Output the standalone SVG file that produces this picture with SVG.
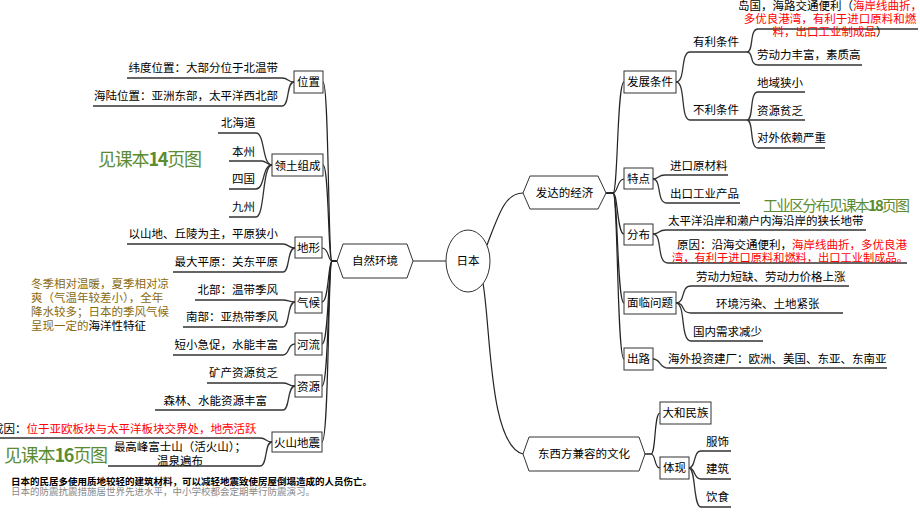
<svg xmlns="http://www.w3.org/2000/svg" width="920" height="518" viewBox="0 0 920 518">
<style>
text{font-family:"Noto Sans CJK SC","Noto Sans",sans-serif;font-size:11.5px;fill:#000}
.m{text-anchor:middle}
.e{text-anchor:end}
.r{fill:#f00}
.g{fill:#5b8c32;font-size:18px}
.o{fill:#8a6a10}
.box{fill:#fff;stroke:#333;stroke-width:1}
.sh{fill:none;stroke:#aaa;stroke-width:1}
.ln{fill:none;stroke:#222;stroke-width:1.2}
.ul{fill:none;stroke:#333;stroke-width:1.3}
.sm{font-size:9.5px}
</style>
<rect width="920" height="518" fill="#fff"/>

<g id="connectors">
  <line class="ln" x1="413" y1="261" x2="446" y2="261"/>
  <path class="ln" d="M487,245 C499,214 505,193 523,193"/>
  <path class="ln" d="M483,283 C491,330 489,445 523,454"/>
  <!-- left spine -->
  <path class="ln" d="M337,261 H332 C328,261 329,82 323,82"/>
  <path class="ln" d="M337,261 H332 C328,261 329,165 323,165"/>
  <path class="ln" d="M337,261 H332 C328,261 329,248 322,248"/>
  <path class="ln" d="M337,261 H332 C328,261 329,302 322,302"/>
  <path class="ln" d="M337,261 H332 C328,261 329,344 322,344"/>
  <path class="ln" d="M337,261 H332 C328,261 329,386 322,386"/>
  <path class="ln" d="M337,261 H332 C328,261 329,442 322,442"/>
  <!-- right spine -->
  <path class="ln" d="M606,193 H613 C618,193 617,82 624,82"/>
  <path class="ln" d="M606,193 H613 C618,193 617,179 624,179"/>
  <path class="ln" d="M606,193 H613 C618,193 617,234 624,234"/>
  <path class="ln" d="M606,193 H613 C618,193 617,303 624,303"/>
  <path class="ln" d="M606,193 H613 C618,193 617,359 624,359"/>
  <!-- left children -->
  <path class="ul" d="M127,78 H282 C289,78 287,82 294,82"/>
  <path class="ul" d="M93,106 H282 C290,106 286,82 294,82"/>
  <path class="ul" d="M218,133 H256 C265,133 262,165 272,165"/>
  <path class="ul" d="M229,161 H262 C266,161 267,165 272,165"/>
  <path class="ul" d="M229,189 H256 C265,189 262,165 272,165"/>
  <path class="ul" d="M229,217 H256 C265,217 262,165 272,165"/>
  <path class="ul" d="M127,244 H283 C289,244 288,248 295,248"/>
  <path class="ul" d="M173,272 H283 C290,272 287,248 295,248"/>
  <path class="ul" d="M195,300 H283 C289,300 288,302 295,302"/>
  <path class="ul" d="M183,327 H283 C290,327 287,302 295,302"/>
  <path class="ul" d="M173,355 H283 C290,355 287,344 295,344"/>
  <path class="ul" d="M207,383 H283 C289,383 288,386 295,386"/>
  <path class="ul" d="M155,410 H283 C290,410 287,386 295,386"/>
  <path class="ul" d="M0,438 H260 C267,438 265,442 272,442"/>
  <path class="ul" d="M108,466 H260 C268,466 264,442 272,442"/>
  <!-- right children -->
  <path class="ul" d="M676,82 C686,82 680,52 690,52 H747"/>
  <path class="ul" d="M676,82 C686,82 680,120 690,120 H747"/>
  <path class="ul" d="M747,52 C754,52 749,29 758,29 H918"/>
  <path class="ul" d="M747,52 C754,52 749,65 758,65 H862"/>
  <path class="ul" d="M747,120 C754,120 749,92 758,92 H805"/>
  <path class="ul" d="M747,120 H805"/>
  <path class="ul" d="M747,120 C754,120 749,148 758,148 H825"/>
  <path class="ul" d="M653,179 C660,179 657,175 665,175 H728"/>
  <path class="ul" d="M653,179 C662,179 656,203 667,203 H740"/>
  <path class="ul" d="M653,234 C661,234 657,230 666,230 H866"/>
  <path class="ul" d="M653,234 C663,234 656,263 668,263 H907"/>
  <path class="ul" d="M676,303 C686,303 680,286 691,286 H849"/>
  <path class="ul" d="M676,303 C686,303 680,313 691,313 H843"/>
  <path class="ul" d="M676,303 C686,303 680,341 691,341 H763"/>
  <path class="ul" d="M653,359 C661,359 659,368 668,368 H887"/>
  <path class="ln" d="M645,454 H651 C656,454 654,413 660,413"/>
  <path class="ln" d="M645,454 H651 C656,454 654,468 660,468"/>
  <path class="ul" d="M689,468 C696,468 693,451 701,451 H731"/>
  <path class="ul" d="M689,468 C696,468 693,479 701,479 H731"/>
  <path class="ul" d="M689,468 C696,468 693,507 701,507 H731"/>
</g>

<g id="n-riben"><ellipse cx="468" cy="261" rx="22" ry="31" fill="#fff" stroke="#333" stroke-width="1"/><text class="m" x="468" y="265">日本</text></g>
<g id="n-ziran"><polygon class="box" points="337,261 343,244 407,244 413,261 407,278 343,278"/><text class="m" x="375" y="265">自然环境</text></g>
<g id="n-jingji"><polygon class="box" points="523,193 530,176 598,176 606,193 598,209 530,209"/><text class="m" x="564.5" y="197">发达的经济</text></g>
<g id="n-wenhua"><polygon class="box" points="523,454 529,437 639,437 645,454 639,471 529,471"/><text class="m" x="584" y="458">东西方兼容的文化</text></g>

<g id="n-weizhi"><rect class="box" x="294" y="71" width="29" height="22"/><text class="m" x="308.5" y="86">位置</text></g>
<g id="n-lingtu"><rect class="box" x="272" y="154" width="51" height="22"/><text class="m" x="297.5" y="169.5">领土组成</text></g>
<g id="n-dixing"><rect class="box" x="295" y="237" width="27" height="21"/><text class="m" x="308.5" y="252">地形</text></g>
<g id="n-qihou"><rect class="box" x="295" y="292" width="27" height="21"/><text class="m" x="308.5" y="307">气候</text></g>
<g id="n-heliu"><rect class="box" x="295" y="333" width="27" height="22"/><text class="m" x="308.5" y="348.5">河流</text></g>
<g id="n-ziyuan"><rect class="box" x="295" y="375" width="27" height="22"/><text class="m" x="308.5" y="390.5">资源</text></g>
<g id="n-huoshan"><rect class="box" x="272" y="432" width="50" height="20"/><text class="m" x="297" y="446.5">火山地震</text></g>

<g id="n-fazhan"><rect class="box" x="624" y="71" width="52" height="22"/><text class="m" x="650" y="86">发展条件</text></g>
<g id="n-tedian"><rect class="box" x="624" y="168" width="29" height="21"/><text class="m" x="638.5" y="183">特点</text></g>
<g id="n-fenbu"><rect class="box" x="624" y="224" width="29" height="21"/><text class="m" x="638.5" y="239">分布</text></g>
<g id="n-mianlin"><rect class="box" x="624" y="292" width="52" height="22"/><text class="m" x="650" y="307">面临问题</text></g>
<g id="n-chulu"><rect class="box" x="624" y="348" width="29" height="22"/><text class="m" x="638.5" y="363">出路</text></g>
<g id="n-dahe"><rect class="box" x="660" y="402" width="51" height="22"/><text class="m" x="685.5" y="417">大和民族</text></g>
<g id="n-tixian"><rect class="box" x="660" y="457" width="29" height="22"/><text class="m" x="674.5" y="472">体现</text></g>

<g id="labels-left">
  <text class="e" x="278" y="72">纬度位置：大部分位于北温带</text>
  <text class="e" x="278" y="100">海陆位置：亚洲东部，太平洋西北部</text>
  <text x="221" y="127">北海道</text>
  <text x="232" y="156">本州</text>
  <text x="232" y="183">四国</text>
  <text x="232" y="211">九州</text>
  <text class="g" x="98" y="166" textLength="104" lengthAdjust="spacing">见课本<tspan font-weight="bold">14</tspan>页图</text>
  <text class="e" x="278" y="238">以山地、丘陵为主，平原狭小</text>
  <text class="e" x="278" y="266">最大平原：关东平原</text>
  <text class="e" x="278" y="294">北部：温带季风</text>
  <text class="e" x="278" y="321">南部：亚热带季风</text>
  <text class="o" x="31" y="288">冬季相对温暖，夏季相对凉</text>
  <text class="o" x="31" y="302">爽（气温年较差小），全年</text>
  <text class="o" x="31" y="316">降水较多；日本的季风气候</text>
  <text class="o" x="31" y="330">呈现一定的<tspan fill="#000">海洋性特征</tspan></text>
  <text class="e" x="278" y="349">短小急促，水能丰富</text>
  <text class="e" x="278" y="377">矿产资源贫乏</text>
  <text class="e" x="267" y="405">森林、水能资源丰富</text>
  <text x="-8" y="433">成因：<tspan class="r">位于亚欧板块与太平洋板块交界处，地壳活跃</tspan></text>
  <text class="m" x="180" y="451">最高峰富士山（活火山）；</text>
  <text class="m" x="180" y="465">温泉遍布</text>
  <text class="g" x="4" y="462" textLength="104" lengthAdjust="spacing">见课本<tspan font-weight="bold">16</tspan>页图</text>
  <text class="sm" x="11" y="485" font-weight="bold">日本的民居多使用质地较轻的建筑材料，可以减轻地震致使房屋倒塌造成的人员伤亡。</text>
  <text class="sm" x="11" y="495" fill="#888" style="fill:#888">日本的防震抗震措施居世界先进水平，中小学校都会定期举行防震演习。</text>
</g>

<g id="labels-right">
  <text x="693" y="46">有利条件</text>
  <text x="693" y="114">不利条件</text>
  <text class="m" x="830" y="9.5">岛国，海路交通便利（<tspan class="r">海岸线曲折，</tspan></text>
  <text class="m r" x="830" y="23">多优良港湾，有利于进口原料和燃</text>
  <text class="m" x="830" y="36"><tspan class="r">料，出口工业制成品</tspan>）</text>
  <text x="757" y="59">劳动力丰富，素质高</text>
  <text x="757" y="87">地域狭小</text>
  <text x="757" y="115">资源贫乏</text>
  <text x="757" y="142">对外依赖严重</text>
  <text x="670" y="170">进口原材料</text>
  <text x="670" y="198">出口工业产品</text>
  <text class="g" x="763" y="211" style="font-size:15px" textLength="147" lengthAdjust="spacing">工业区分布见课本<tspan font-weight="bold">18</tspan>页图</text>
  <text x="668" y="225">太平洋沿岸和濑户内海沿岸的狭长地带</text>
  <text x="677" y="249">原因：沿海交通便利，<tspan class="r">海岸线曲折，多优良港</tspan></text>
  <text class="r" x="672" y="262" textLength="236" lengthAdjust="spacingAndGlyphs">湾，有利于进口原料和燃料，出口工业制成品。</text>
  <text x="696" y="281">劳动力短缺、劳动力价格上涨</text>
  <text x="716" y="308">环境污染、土地紧张</text>
  <text x="693" y="336">国内需求减少</text>
  <text x="668" y="363">海外投资建厂：欧洲、美国、东亚、东南亚</text>
  <text x="706" y="446">服饰</text>
  <text x="706" y="473">建筑</text>
  <text x="706" y="501">饮食</text>
</g>
</svg>
